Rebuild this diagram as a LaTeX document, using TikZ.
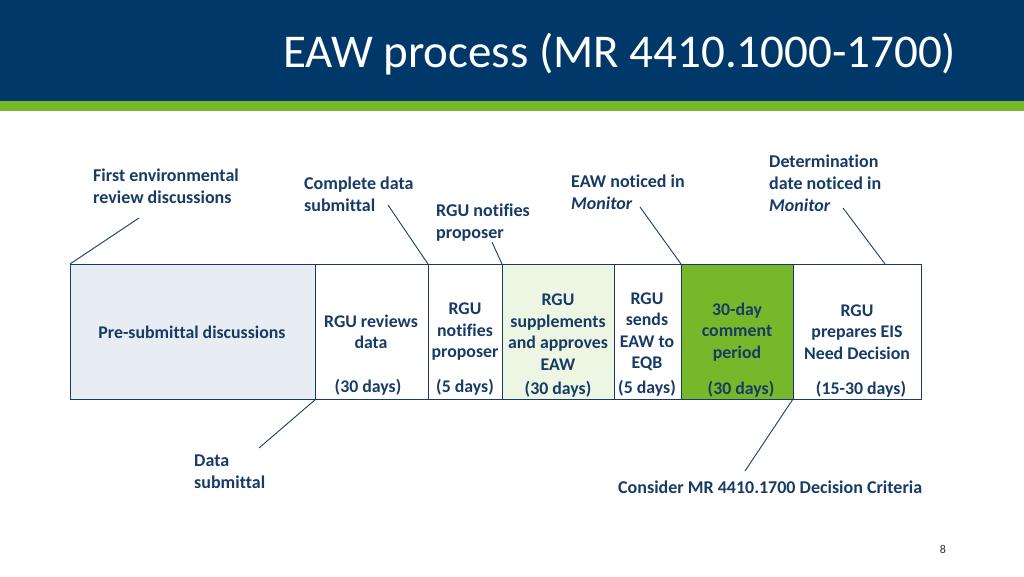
\documentclass[tikz,border=0pt]{standalone}
\usepackage{fontspec}
\setmainfont{Carlito}[Ligatures={NoCommon}]
\definecolor{hdrblue}{HTML}{003869}
\definecolor{hdrgreen}{HTML}{76B82A}
\definecolor{navy}{HTML}{173B66}
\definecolor{cellblue}{HTML}{E8EDF4}
\definecolor{cellgreenl}{HTML}{EDF6E2}
\definecolor{cellgreen}{HTML}{76B82A}
\begin{document}
\begin{tikzpicture}[x=1pt,y=-1pt,
  cell/.style={draw=navy,line width=0.9pt,minimum height=135pt,inner sep=0pt,anchor=north west},
  celltxt/.style={text=navy,font=\fontsize{17.8}{21.5}\selectfont\bfseries,align=center,inner sep=0pt},
  lbl/.style={text=navy,font=\fontsize{18}{22}\selectfont\bfseries,align=left,inner sep=0pt,anchor=north west},
  leader/.style={draw=navy,line width=0.9pt}]
\useasboundingbox (0,0) rectangle (1024,576);
% header
\fill[hdrblue] (0,0) rectangle (1024,101);
\fill[hdrgreen] (0,101) rectangle (1024,111);
\node[anchor=base west,text=white,font=\fontsize{47}{56}\selectfont,inner sep=0pt] (title) at (283,67) {EAW process (MR 4410.1000-1700)};
% cells
\node[cell,fill=cellblue,minimum width=245pt] (c1) at (70,264) {};
\node[cell,minimum width=113pt] (c2) at (315,264) {};
\node[cell,minimum width=74pt] (c3) at (428,264) {};
\node[cell,fill=cellgreenl,minimum width=112pt] (c4) at (502,264) {};
\node[cell,minimum width=67pt] (c5) at (614,264) {};
\node[cell,fill=cellgreen,minimum width=112pt] (c6) at (681,264) {};
\node[cell,minimum width=128pt] (c7) at (793,264) {};
% cell texts
\node[celltxt] (t1) at (192,332) {Pre-submittal discussions};
\node[celltxt] (t2) at (371,332) {RGU reviews\\data};
\node[celltxt] (t3) at (465,332) {RGU\\notifies\\proposer};
\node[celltxt] (t4) at (558,332) {RGU\\supplements\\and approves\\EAW};
\node[celltxt] (t5) at (647,332) {RGU\\sends\\EAW to\\EQB};
\node[celltxt] (t6) at (737,332) {30-day\\comment\\period};
\node[celltxt] (t7) at (857,332) {RGU\\prepares EIS\\Need Decision};
\node[celltxt] (d2) at (368,387) {(30 days)};
\node[celltxt] (d3) at (465,387) {(5 days)};
\node[celltxt] (d4) at (558,389) {(30 days)};
\node[celltxt] (d5) at (647,388) {(5 days)};
\node[celltxt] (d6) at (741,389) {(30 days)};
\node[celltxt] (d7) at (861,389) {(15-30 days)};
% labels
\node[lbl] (l1) at (93,169) {First environmental\\review discussions};
\node[lbl] (l2) at (304,177) {Complete data\\submittal};
\node[lbl] (l3) at (436,204) {RGU notifies\\proposer};
\node[lbl] (l4) at (571,175) {EAW noticed in\\\textit{Monitor}};
\node[lbl] (l5) at (769,155) {Determination\\date noticed in\\\textit{Monitor}};
\node[lbl] (l6) at (194,455) {Data\\submittal};
\node[lbl] (l7) at (618,481) {Consider MR 4410.1700 Decision Criteria};
\node[anchor=base,inner sep=0pt,font=\fontsize{12}{14}\selectfont,text=black!80] (pg) at (943,553) {8};
% leader coordinates
\coordinate (a1) at (139,218); \coordinate (b1) at (70,264);
\coordinate (a2) at (388,205); \coordinate (b2) at (428,264);
\coordinate (a3) at (492,242); \coordinate (b3) at (502,264);
\coordinate (a4) at (640,207); \coordinate (b4) at (681,264);
\coordinate (a5) at (843,208); \coordinate (b5) at (885,264);
\coordinate (a6) at (259,448); \coordinate (b6) at (316,399);
\coordinate (a7) at (745,471); \coordinate (b7) at (793,399);
\foreach \i in {1,...,7} {\draw[leader] (a\i) -- (b\i);}
\end{tikzpicture}
\end{document}
